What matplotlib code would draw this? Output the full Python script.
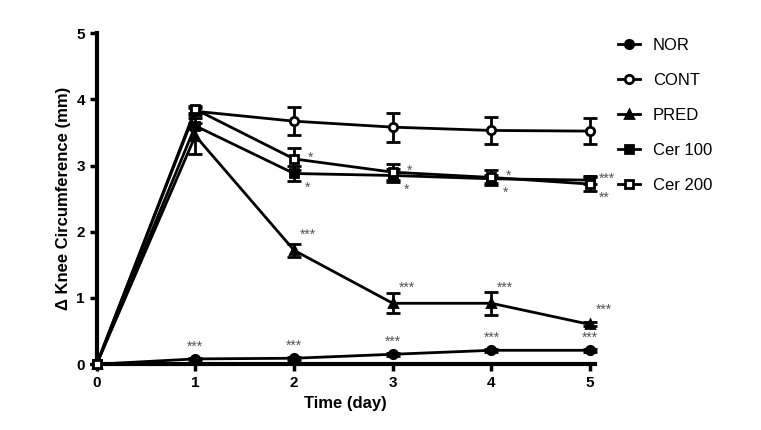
import numpy as np
import matplotlib.pyplot as plt

plt.rcParams['font.family'] = ['Liberation Sans', 'DejaVu Sans']

days = [0, 1, 2, 3, 4, 5]

nor = [0, 0.08, 0.09, 0.15, 0.21, 0.21]
nor_err = [0, 0.02, 0.02, 0.02, 0.02, 0.02]
cont = [0, 3.82, 3.67, 3.58, 3.53, 3.52]
cont_err = [0, 0.05, 0.21, 0.22, 0.21, 0.2]
pred = [0, 3.45, 1.72, 0.92, 0.92, 0.6]
pred_err = [0, 0.27, 0.1, 0.15, 0.17, 0.03]
cer100 = [0, 3.6, 2.88, 2.85, 2.8, 2.78]
cer100_err = [0, 0.05, 0.12, 0.1, 0.06, 0.06]
cer200 = [0, 3.85, 3.1, 2.9, 2.82, 2.72]
cer200_err = [0, 0.05, 0.16, 0.12, 0.12, 0.1]

# significance marks per day
stars_nor = ['', '***', '***', '***', '***', '***']
stars_pred = ['', '', '***', '***', '***', '***']
stars_cer100 = ['', '', '*', '*', '*', '***']
stars_cer200 = ['', '', '*', '*', '*', '**']

fig = plt.figure(figsize=(7.61, 4.3), dpi=100)
ax = fig.add_axes([0.127, 0.153, 0.655, 0.77])

series = [
    ('NOR', nor, nor_err, 'o', 'black'),
    ('CONT', cont, cont_err, 'o', 'white'),
    ('PRED', pred, pred_err, '^', 'black'),
    ('Cer 100', cer100, cer100_err, 's', 'black'),
    ('Cer 200', cer200, cer200_err, 's', 'white'),
]
for name, y, e, m, fc in series:
    ax.errorbar(days, y, yerr=e, fmt='none', ecolor='black',
                elinewidth=2, capsize=5, capthick=2, clip_on=False, zorder=2)
    ax.plot(days, y, color='black', marker=m, markersize=6,
            markerfacecolor=fc, markeredgecolor='black', markeredgewidth=2,
            linewidth=2, label=name, clip_on=False, zorder=3)

star_kw = dict(fontsize=10, color='#555555', ha='center')
for d in range(6):
    if stars_nor[d]:
        ax.annotate(stars_nor[d], (days[d], nor[d]), xytext=(0, 6),
                    textcoords='offset points', **star_kw)
    if stars_pred[d]:
        ax.annotate(stars_pred[d], (days[d], pred[d]), xytext=(10, 8),
                    textcoords='offset points', **star_kw)
    if stars_cer100[d]:
        # upper of the two Cer points gets its label above, lower one below
        if cer200[d] >= cer100[d]:
            up, lo = (cer200[d], stars_cer200[d]), (cer100[d], stars_cer100[d])
        else:
            up, lo = (cer100[d], stars_cer100[d]), (cer200[d], stars_cer200[d])
        ax.annotate(up[1], (days[d], up[0]), xytext=(12, -2),
                    textcoords='offset points', **star_kw)
        ax.annotate(lo[1], (days[d], lo[0]), xytext=(10, -13),
                    textcoords='offset points', **star_kw)

ax.set_xlim(0, 5.05)
ax.set_ylim(0, 5)
ax.set_xticks(days)
ax.set_yticks([0, 1, 2, 3, 4, 5])
for s in ['top', 'right']:
    ax.spines[s].set_visible(False)
for s in ['left', 'bottom']:
    ax.spines[s].set_linewidth(3)
ax.tick_params(width=2.5, length=5, labelsize=11)
for lab in ax.get_xticklabels() + ax.get_yticklabels():
    lab.set_fontweight('bold')
ax.set_xlabel('Time (day)', fontsize=12, fontweight='bold')
ax.set_ylabel('Δ Knee Circumference (mm)', fontsize=12, fontweight='bold')

ax.legend(loc='upper left', bbox_to_anchor=(1.016, 1.03), frameon=False,
          fontsize=12, handlelength=1.3, labelspacing=1.2)

fig.savefig('out.png', dpi=100)
